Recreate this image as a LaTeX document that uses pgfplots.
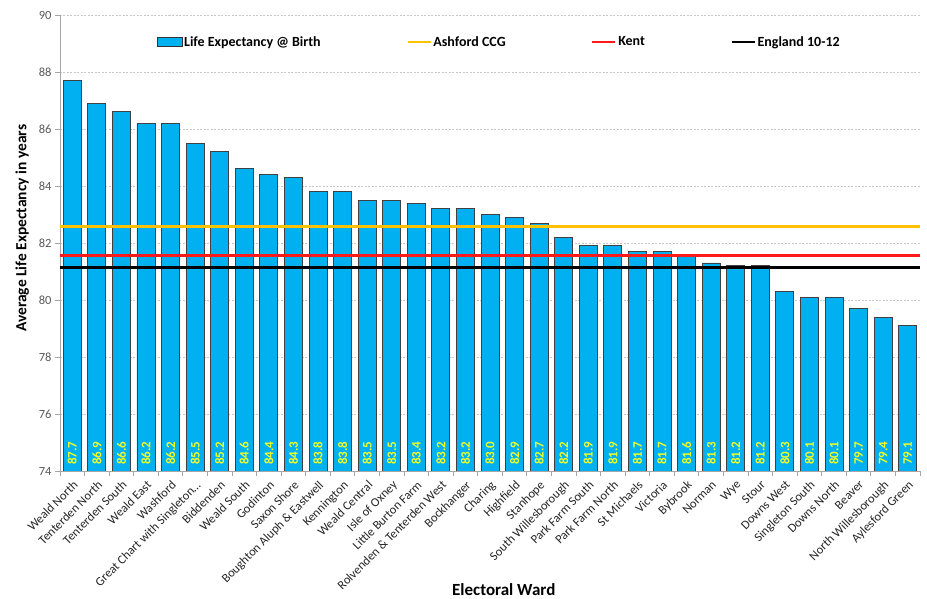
\documentclass[border=0pt]{standalone}
\usepackage{pgfplots}
\pgfplotsset{compat=1.18}
\usepackage{pgfplotstable}
\usepackage{fontspec}
\setmainfont{Carlito}
\definecolor{barblue}{HTML}{00B0F0}
\definecolor{ccg}{HTML}{FFC000}
\definecolor{kent}{HTML}{FF1A1A}
\definecolor{ticklab}{HTML}{595959}
\definecolor{axgray}{HTML}{A6A6A6}
\definecolor{gridgray}{HTML}{C8C8C8}
\definecolor{labyellow}{HTML}{F2FF26}

\pgfplotstableread{
x val
0 87.7
1 86.9
2 86.6
3 86.2
4 86.2
5 85.5
6 85.2
7 84.6
8 84.4
9 84.3
10 83.8
11 83.8
12 83.5
13 83.5
14 83.4
15 83.2
16 83.2
17 83.0
18 82.9
19 82.7
20 82.2
21 81.9
22 81.9
23 81.7
24 81.7
25 81.6
26 81.3
27 81.2
28 81.2
29 80.3
30 80.1
31 80.1
32 79.7
33 79.4
34 79.1
}\wards

\begin{document}
\begin{tikzpicture}
\useasboundingbox (-60pt,-128pt) rectangle (867pt,471pt);
\begin{axis}[
  scale only axis, width=860pt, height=456pt,
  xmin=-0.5, xmax=34.5, ymin=74, ymax=90,
  ytick={74,76,...,90},
  xtick={0,...,34},
  xticklabels={Weald North,Tenterden North,Tenterden South,Weald East,Washford,Great Chart with Singleton\ldots,Biddenden,Weald South,Godinton,Saxon Shore,Boughton Aluph \& Eastwell,Kennington,Weald Central,Isle of Oxney,Little Burton Farm,Rolvenden \& Tenterden West,Bockhanger,Charing,Highfield,Stanhope,South Willesborough,Park Farm South,Park Farm North,St Michaels,Victoria,Bybrook,Norman,Wye,Stour,Downs West,Singleton South,Downs North,Beaver,North Willesborough,Aylesford Green},
  minor xtick={-0.5,0.5,...,34.5},
  x tick label style={rotate=45, anchor=north east, font=\fontsize{12.5}{14}\selectfont, text=black!85, inner sep=2.5pt},
  y tick label style={font=\fontsize{12.5}{14}\selectfont, text=ticklab},
  /pgf/number format/assume math mode=true,
  axis x line*=bottom, axis y line*=left,
  axis line style={axgray, line width=0.8pt, -},
  tick align=outside,
  major tick length=5pt, minor tick length=5pt,
  every tick/.style={axgray, line width=0.8pt},
  every major x tick/.append style={draw=none},
  ymajorgrids,
  major grid style={gridgray, line width=0.6pt, dash pattern=on 2pt off 1.5pt},
  ylabel={Average Life Expectancy in years},
  ylabel style={at={(axis description cs:-0.044,0.532)}, anchor=center, font=\bfseries\fontsize{15.5}{18}\selectfont},
  xlabel={Electoral Ward},
  xlabel style={at={(axis description cs:0.516,-0.272)}, anchor=base, inner sep=0pt, text depth=0pt, font=\bfseries\fontsize{17}{20}\selectfont},
  legend columns=4,
  legend style={at={(axis description cs:0.5105,0.941)}, anchor=center, draw=none, fill=none,
    font=\bfseries\fontsize{14}{16}\selectfont,
    nodes={inner sep=1.5pt},
    /tikz/every even column/.append style={column sep=84pt}},
  legend image code/.code={\draw[#1] (0pt,0pt) -- (23pt,0pt);},
]
\addplot[ybar, bar width=18pt, bar shift=0pt, fill=barblue, draw=black!75, line width=0.8pt,
  legend image code/.code={\draw[fill=barblue, draw=black!80, line width=0.8pt] (0pt,-4.5pt) rectangle (25pt,4.5pt);}]
  table[x=x,y=val]{\wards};
\addlegendentry{Life Expectancy @ Birth}
\addplot[ccg, line width=2.6pt] coordinates {(-0.5,82.57) (34.5,82.57)};
\addlegendentry{Ashford CCG}
\addplot[kent, line width=2.6pt] coordinates {(-0.5,81.56) (34.5,81.56)};
\addlegendentry{Kent}
\addplot[black, line width=2.6pt] coordinates {(-0.5,81.13) (34.5,81.13)};
\addlegendentry{England 10-12}
\addplot[forget plot, only marks, mark=*, mark size=0pt, mark options={draw=none, fill=none},
  nodes near coords={\pgfmathprintnumber[fixed, fixed zerofill, precision=1, assume math mode=true]{\pgfplotspointmeta}},
  every node near coord/.style={rotate=90, anchor=west, inner xsep=6pt, inner ysep=0pt, text=labyellow, font=\bfseries\fontsize{13}{14}\selectfont},
  point meta=explicit]
  table[x=x, y expr=74, meta=val]{\wards};
\end{axis}
\end{tikzpicture}
\end{document}
